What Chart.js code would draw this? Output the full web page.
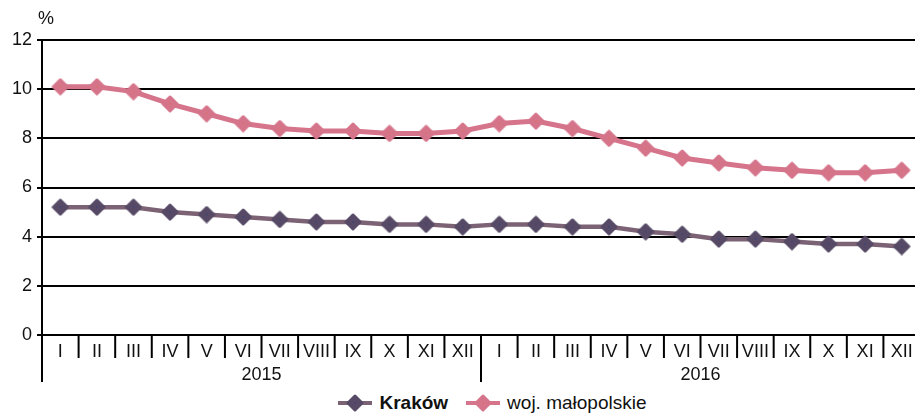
<!DOCTYPE html>
<html>
<head>
<meta charset="utf-8">
<script src="https://cdn.jsdelivr.net/npm/chart.js@4.4.0/dist/chart.umd.min.js"></script>
<style>
  html, body { margin: 0; padding: 0; background: #fff; overflow: hidden; width: 915px; }
  #wrap { position: relative; width: 920px; height: 389px; }
  #legend { display: flex; justify-content: center; align-items: center; height: 27px; width: 915px;
    font-family: "Liberation Sans", Arial, sans-serif; font-size: 19px; color: #111; padding-left: 70px; box-sizing: border-box; }
  #legend span.item { display: flex; align-items: center; margin: 0 9px; }
  #legend canvas { margin-right: 7px; }
</style>
</head>
<body>
<div id="wrap"><canvas id="chart"></canvas></div>
<div id="legend"></div>
<script>
const ctx = document.getElementById('chart').getContext('2d');

const months = ['I','II','III','IV','V','VI','VII','VIII','IX','X','XI','XII',
                'I','II','III','IV','V','VI','VII','VIII','IX','X','XI','XII'];
const years = ['2015', '2016'];

const krakow = [5.2, 5.2, 5.2, 5.0, 4.9, 4.8, 4.7, 4.6, 4.6, 4.5, 4.5, 4.4,
                4.5, 4.5, 4.4, 4.4, 4.2, 4.1, 3.9, 3.9, 3.8, 3.7, 3.7, 3.6];
const malopolskie = [10.1, 10.1, 9.9, 9.4, 9.0, 8.6, 8.4, 8.3, 8.3, 8.2, 8.2, 8.3,
                     8.6, 8.7, 8.4, 8.0, 7.6, 7.2, 7.0, 6.8, 6.7, 6.6, 6.6, 6.7];

const font = { family: '"Liberation Sans", Arial, sans-serif', size: 18 };

// rounded diamond marker with a tiny dot in the middle
function diamond(fill, dot) {
    const cv = document.createElement('canvas');
    cv.width = 18; cv.height = 18;
    const g = cv.getContext('2d');
    g.fillStyle = fill; g.strokeStyle = fill;
    g.lineWidth = 3; g.lineJoin = 'round';
    g.beginPath();
    g.moveTo(9, 2); g.lineTo(16, 9); g.lineTo(9, 16); g.lineTo(2, 9);
    g.closePath(); g.fill(); g.stroke();
    g.fillStyle = dot;
    g.fillRect(8.5, 8.5, 1, 1);
    return cv;
}
const krakowMark = diamond('#564a66', '#1f3f8f');
const malopolskieMark = diamond('#d5748a', '#e0702a');

// "%" label above the y axis, month separators and the long year separators
const extras = {
    id: 'extras',
    afterDraw(chart) {
        const c = chart.ctx, area = chart.chartArea, x = chart.scales.x;
        c.save();
        c.fillStyle = '#111';
        c.font = '18px "Liberation Sans", Arial, sans-serif';
        c.textBaseline = 'middle';
        c.textAlign = 'left';
        c.fillText('%', area.left - 4, area.top - 21);
        c.strokeStyle = '#000';
        c.lineWidth = 2;
        const n = months.length;
        const step = x.getPixelForValue(1) - x.getPixelForValue(0);
        for (let i = 0; i <= n; i++) {
            const px = x.getPixelForValue(0) - step / 2 + i * step;
            const long = (i === 0 || i === 12);
            c.beginPath();
            c.moveTo(px, area.bottom);
            c.lineTo(px, area.bottom + (long ? 47 : 23));
            c.stroke();
        }
        c.restore();
    }
};

// keep the bottom axes at fixed heights and without extra side padding
function fixAxis(h) {
    return function(scale) {
        scale.height = h;
        scale.paddingLeft = 0;
        scale.paddingRight = 0;
    };
}

const chart = new Chart(ctx, {
    type: 'line',
    data: {
        labels: months,
        datasets: [{
            label: 'Kraków',
            data: krakow,
            borderColor: '#7b6274',
            backgroundColor: '#564a66',
            borderWidth: 4.5,
            pointStyle: krakowMark,
            tension: 0
        }, {
            label: 'woj. małopolskie',
            data: malopolskie,
            borderColor: '#d5748a',
            backgroundColor: '#d5748a',
            borderWidth: 5,
            pointStyle: malopolskieMark,
            tension: 0
        }]
    },
    options: {
        responsive: true,
        maintainAspectRatio: false,
        animation: false,
        layout: { autoPadding: false, padding: { top: 40, left: 7, right: 0, bottom: 0 } },
        plugins: { legend: { display: false }, tooltip: { enabled: false } },
        scales: {
            x: {
                offset: true,
                grid: { display: false, drawTicks: false },
                border: { display: false },
                ticks: { color: '#111', font: font, padding: 6, maxRotation: 0, autoSkip: false },
                afterFit: fixAxis(29)
            },
            x2: {
                type: 'category',
                labels: years,
                position: 'bottom',
                offset: true,
                grid: { display: false, drawTicks: false },
                border: { display: false },
                ticks: { color: '#111', font: font, padding: 0 },
                afterFit: fixAxis(25)
            },
            y: {
                min: 0,
                max: 12,
                ticks: { stepSize: 2, color: '#111', font: font, padding: 5 },
                grid: { color: '#000', lineWidth: 2, tickLength: 5 },
                border: { color: '#000', width: 2 }
            }
        }
    },
    plugins: [extras]
});

// legend with a line + diamond swatch, first label bold
const legend = document.getElementById('legend');
chart.data.datasets.forEach(function(ds, i) {
    const item = document.createElement('span');
    item.className = 'item';
    const sw = document.createElement('canvas');
    sw.width = 34; sw.height = 18;
    const s = sw.getContext('2d');
    s.strokeStyle = ds.borderColor; s.lineWidth = 4;
    s.beginPath(); s.moveTo(0, 9); s.lineTo(34, 9); s.stroke();
    s.drawImage(ds.pointStyle, 8, 0);
    const t = document.createElement('span');
    t.textContent = ds.label;
    if (i === 0) t.style.fontWeight = 'bold';
    item.appendChild(sw); item.appendChild(t);
    legend.appendChild(item);
});
</script>
</body>
</html>
